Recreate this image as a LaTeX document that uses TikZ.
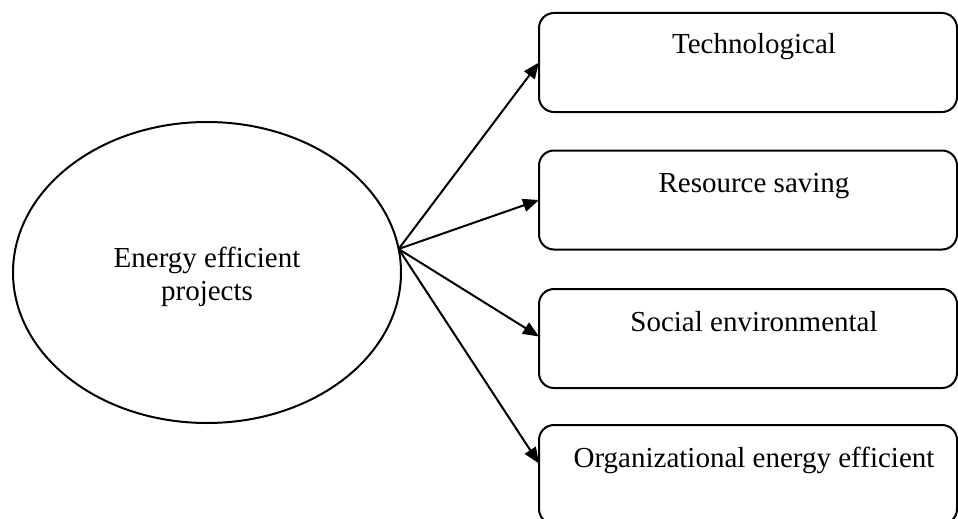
\documentclass[tikz,border=0pt]{standalone}
\usepackage{fontspec}
\setmainfont{Liberation Serif}
\usetikzlibrary{arrows.meta,shapes.geometric}
\begin{document}
\begin{tikzpicture}[x=1pt,y=-1pt,
  lw/.style={line width=2pt},
  boxshape/.style={lw,draw,rectangle,rounded corners=15pt,minimum width=418pt,minimum height=99pt,inner sep=0pt,outer sep=0pt},
  lbl/.style={font=\fontsize{29}{33}\selectfont,inner sep=0pt},
  arr/.style={lw,-{Triangle[length=16pt,width=13pt]}}]
\useasboundingbox (0,0) rectangle (958,519);
\node[lw,draw,ellipse,minimum width=388pt,minimum height=301pt,inner sep=0pt,outer sep=0pt] (e) at (207,272.5) {};
\node[lbl,align=center] (et) at (207,277) {Energy efficient\\projects};
\node[boxshape] (b1) at (748,62.5) {};
\node[boxshape] (b2) at (748,200) {};
\node[boxshape] (b3) at (748,338.5) {};
\node[boxshape] (b4) at (748,474.5) {};
\node[lbl,anchor=base] (t1) at (754,54) {Technological};
\node[lbl,anchor=base] (t2) at (754,192) {Resource saving};
\node[lbl,anchor=base] (t3) at (754,331) {Social environmental};
\node[lbl,anchor=base] (t4) at (754,467) {Organizational energy efficient};
\coordinate (src) at (e.7.5);
\draw[arr] (src) -- (b1.west);
\draw[arr] (src) -- (b2.west);
\draw[arr] (src) -- ([yshift=2pt]b3.west);
\draw[arr] (src) -- ([yshift=11pt]b4.west);
\end{tikzpicture}
\end{document}
